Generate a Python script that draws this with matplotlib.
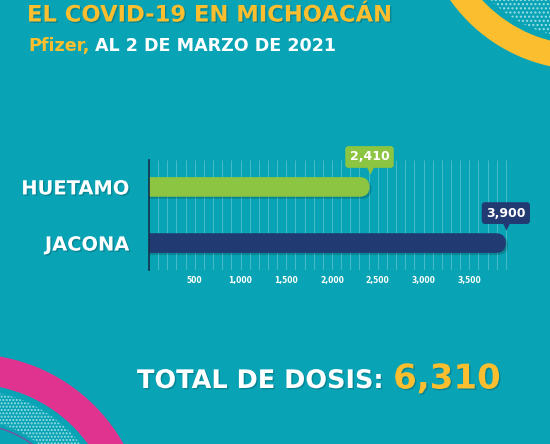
import numpy as np
import matplotlib
matplotlib.use('Agg')
import matplotlib.pyplot as plt
import matplotlib.patches as mpatches
import matplotlib.patheffects as pe
from matplotlib.transforms import offset_copy, IdentityTransform
from matplotlib.ticker import FixedLocator, FuncFormatter

########################### data ############################

municipios = ['JACONA', 'HUETAMO']
dosis = [3900, 2410]
x_ticks = [500, 1000, 1500, 2000, 2500, 3000, 3500]
titulo = 'EL COVID-19 EN MICHOACÁN'
vacuna = 'Pfizer,'
fecha = 'AL 2 DE MARZO DE 2021'
total_label = 'TOTAL DE DOSIS:'

########################### style ############################

bg = '#08A3B4'
yellow = '#FBBE2E'
pink = '#E03390'
bar_colors = ['#223A72', '#8CC541']
font = 'DejaVu Sans'
shadow = [pe.withSimplePatchShadow(offset=(1, -1), shadow_rgbFace='#05505a', alpha=0.35)]

fig = plt.figure(figsize=(5.5, 4.44), dpi=100)
fig.patch.set_facecolor(bg)

# background layer in pixel coords
bga = fig.add_axes([0, 0, 1, 1], zorder=0)
bga.set_xlim(0, 550)
bga.set_ylim(444, 0)
bga.axis('off')
bga.set_facecolor(bg)

# top right rings
cx, cy = 585, -95
bga.add_patch(mpatches.Wedge((cx, cy), 165, 0, 360, width=25, fc=yellow, ec='none'))
bga.add_patch(mpatches.Wedge((cx, cy), 134, 0, 360, width=32, fc='none', ec='#9fe0e8',
                             hatch='....', lw=0))
# bottom left rings
cx, cy = -30, 530
bga.add_patch(mpatches.Wedge((cx, cy), 176, 0, 360, width=30, fc=pink, ec='none'))
bga.add_patch(mpatches.Wedge((cx, cy), 140, 0, 360, width=30, fc='none', ec='#9fe0e8',
                             hatch='.....', lw=0))
bga.add_patch(mpatches.Circle((cx, cy), 106, fc='none', ec='#7a4fa0', lw=1))


def after(t, gap):
    # x (pixel coords) just right of a text
    fig.canvas.draw()
    bb = t.get_window_extent()
    return bga.transData.inverted().transform((bb.x1, bb.y0))[0] + gap


# titles
bga.text(27, 15, titulo, color=yellow, fontsize=16.3, fontweight='bold', family=font,
         va='center', ha='left', path_effects=shadow)
t_vac = bga.text(28, 46, vacuna, color=yellow, fontsize=12.6, fontweight='bold', family=font,
                 va='center', ha='left')
bga.text(after(t_vac, 6), 46, fecha, color='white', fontsize=12.6, fontweight='bold',
         family=font, va='center', ha='left')
t_tot = bga.text(137, 381, total_label, color='white', fontsize=18.4, fontweight='bold',
                 family=font, va='center', ha='left', path_effects=shadow)
bga.text(after(t_tot, 10), 379, f'{sum(dosis):,}', color=yellow, fontsize=24.5,
         fontweight='bold', family=font, va='center', ha='left', path_effects=shadow)

########################### chart ############################

ax = fig.add_axes([149 / 550, 1 - 270 / 444, 366 / 550, 110 / 444], zorder=2)
ax.set_facecolor('none')
ax.set_xlim(0, 4000)
ax.set_ylim(-0.48, 1.48)
ypos = np.arange(len(municipios))
bar_h = 0.35

ax.vlines(np.arange(100, 4000, 100), -0.48, 1.48, color='white', alpha=0.3, lw=0.6, zorder=1)

for s in ['top', 'right', 'bottom']:
    ax.spines[s].set_visible(False)
ax.spines['left'].set_color('#16304a')
ax.spines['left'].set_linewidth(1.2)
ax.spines['left'].set_zorder(5)

bars = ax.barh(ypos, dosis, height=bar_h, color='none')
for rect, c in zip(bars, bar_colors):
    (x0, y0), (x1, y1) = ax.transData.transform([(rect.get_x(), rect.get_y()),
                                                 (rect.get_x() + rect.get_width(),
                                                  rect.get_y() + rect.get_height())])
    r = (y1 - y0) / 2
    sh = mpatches.FancyBboxPatch((x0 - 2 * r + 2, y0 - 2), x1 - x0 + 2 * r, y1 - y0,
                                 boxstyle=f'round,pad=0,rounding_size={r}',
                                 transform=IdentityTransform(), fc='black', alpha=0.18,
                                 ec='none', zorder=2)
    p = mpatches.FancyBboxPatch((x0 - 2 * r, y0), x1 - x0 + 2 * r, y1 - y0,
                                boxstyle=f'round,pad=0,rounding_size={r}',
                                transform=IdentityTransform(), fc=c, ec='none', zorder=3)
    ax.add_patch(sh)
    ax.add_patch(p)

for y, v, c in zip(ypos, dosis, bar_colors):
    ax.annotate(f'{v:,}', xy=(v, y + bar_h / 2), xytext=(0, 14.5), textcoords='offset points',
                ha='center', va='center', color='white', fontsize=9, fontweight='bold',
                family=font, zorder=6, annotation_clip=False,
                bbox=dict(boxstyle='round,pad=0.35,rounding_size=0.25', fc=c, ec='none'))
    tr = offset_copy(ax.transData, fig=fig, x=0, y=5, units='points')
    ax.plot([v], [y + bar_h / 2], marker='v', ms=6, color=c, mec='none',
            transform=tr, clip_on=False, zorder=6)

ax.xaxis.set_major_locator(FixedLocator(x_ticks))
ax.xaxis.set_major_formatter(FuncFormatter(lambda v, p: f'{int(v):,}'))
ax.set_yticks(ypos)
ax.set_yticklabels(municipios)
ax.tick_params(axis='x', length=0, pad=4, labelsize=5.5, labelcolor='white')
ax.tick_params(axis='y', length=0, pad=14, labelsize=14, labelcolor='white')
for lab in ax.get_xticklabels():
    lab.set_fontweight('bold')
    lab.set_family(font)
for lab in ax.get_yticklabels():
    lab.set_fontweight('bold')
    lab.set_family(font)
    lab.set_path_effects(shadow)

fig.savefig('out.png', dpi=100, facecolor=bg)
